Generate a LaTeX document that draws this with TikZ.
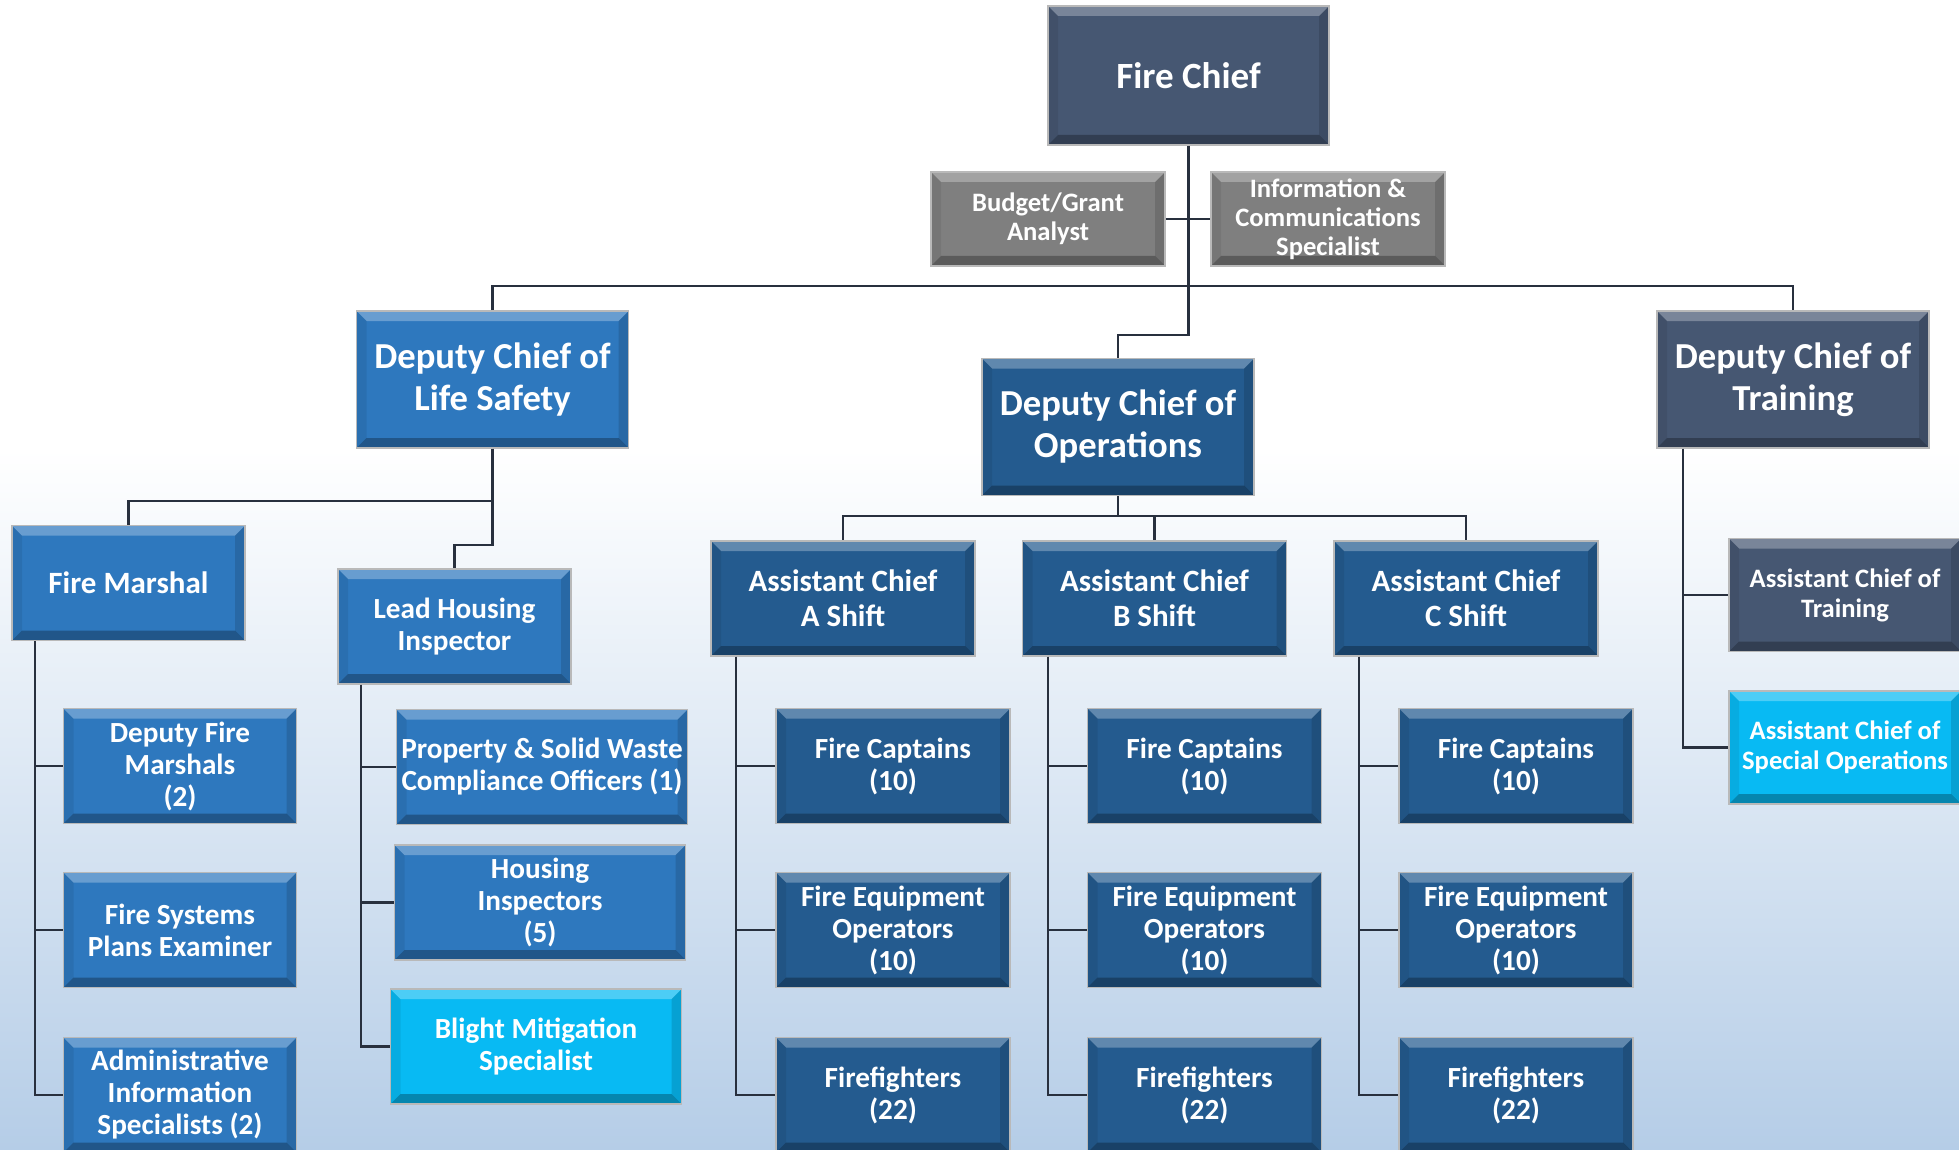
\documentclass[tikz,border=0pt]{standalone}
\usepackage{fontspec}
\setmainfont{Carlito}
\definecolor{slate}{HTML}{465772}
\definecolor{staffgray}{HTML}{7F7F7F}
\definecolor{lsblue}{HTML}{2E78BE}
\definecolor{opsblue}{HTML}{245B8F}
\definecolor{cyanbox}{HTML}{08BAF3}
\definecolor{linkcol}{HTML}{28303E}
\definecolor{bgblue}{HTML}{B5CDE7}
\begin{document}
\begin{tikzpicture}
    [x=0.5pt,y=-0.5pt,
     link/.style={draw=linkcol,line width=1.2pt},
     bevel/.style={path picture={
       \fill[white,opacity=.28] (path picture bounding box.north west) -- (path picture bounding box.north east)
         -- ([shift={(-5pt,-5pt)}]path picture bounding box.north east) -- ([shift={(5pt,-5pt)}]path picture bounding box.north west) -- cycle;
       \fill[black,opacity=.28] (path picture bounding box.south west) -- (path picture bounding box.south east)
         -- ([shift={(-5pt,5pt)}]path picture bounding box.south east) -- ([shift={(5pt,5pt)}]path picture bounding box.south west) -- cycle;
       \fill[black,opacity=.13] (path picture bounding box.north east) -- (path picture bounding box.south east)
         -- ([shift={(-5pt,5pt)}]path picture bounding box.south east) -- ([shift={(-5pt,-5pt)}]path picture bounding box.north east) -- cycle;
       \fill[black,opacity=.07] (path picture bounding box.north west) -- (path picture bounding box.south west)
         -- ([shift={(5pt,5pt)}]path picture bounding box.south west) -- ([shift={(5pt,-5pt)}]path picture bounding box.north west) -- cycle;}},
     box/.style={rectangle,draw=gray!55,line width=0.8pt,text=white,align=center,inner sep=0pt,bevel},
     chiefbox/.style={box,fill=slate,minimum width=140.5pt,minimum height=69.5pt,font=\fontsize{18.5}{22}\selectfont\bfseries},
     staffbox/.style={box,fill=staffgray,minimum width=117pt,minimum height=47pt,font=\fontsize{13.3}{14.5}\selectfont\bfseries},
     dcbox/.style={box,minimum width=136pt,minimum height=68.5pt,font=\fontsize{18.3}{21}\selectfont\bfseries},
     midbox/.style={box,minimum width=116.5pt,minimum height=57.5pt,font=\fontsize{15.5}{17.5}\selectfont\bfseries},
     unitbox/.style={box,minimum width=116.5pt,minimum height=57.5pt,font=\fontsize{14.6}{16}\selectfont\bfseries},
     widebox/.style={unitbox,minimum width=145.5pt},
     trainbox/.style={box,minimum width=116pt,minimum height=56.5pt,font=\fontsize{13.3}{15}\selectfont\bfseries}]
  \clip (0,0) rectangle (1959,1150);
  \fill[white] (0,0) rectangle (1959,450);
  \shade[top color=white,bottom color=bgblue] (0,449) rectangle (1959,1150);
  \coordinate (bus) at (0,286);
  \coordinate (dcjog) at (0,335);
  \coordinate (lsbus) at (0,501);
  \coordinate (lhijog) at (0,545);
  \coordinate (opsbus) at (0,516);
  \node[chiefbox] (chief) at (1188.5,75.5) {Fire Chief};
  \node[staffbox] (budget) at (1048,219) {Budget/Grant\\Analyst};
  \node[staffbox] (info) at (1328,219) {Information \&\\Communications\\Specialist};
  \node[dcbox,fill=lsblue] (ls) at (492.5,379.5) {Deputy Chief of\\Life Safety};
  \node[dcbox,fill=opsblue] (dco) at (1118,427) {Deputy Chief of\\Operations};
  \node[dcbox,fill=slate] (train) at (1793,379.5) {Deputy Chief of\\Training};
  \node[midbox,fill=lsblue] (fm) at (128.5,583) {Fire Marshal};
  \node[unitbox,fill=lsblue] (lhi) at (454.5,626.5) {Lead Housing\\Inspector};
  \node[unitbox,fill=lsblue] (dfm) at (180,766) {Deputy Fire\\Marshals\\(2)};
  \node[unitbox,fill=lsblue] (fspe) at (180,930) {Fire Systems\\Plans Examiner};
  \node[unitbox,fill=lsblue] (ais) at (180,1095) {Administrative\\Information\\Specialists (2)};
  \node[widebox,fill=lsblue] (pswc) at (542,767) {Property \& Solid Waste\\Compliance Officers (1)};
  \node[widebox,fill=lsblue] (hi) at (540,902.5) {Housing\\Inspectors\\(5)};
  \node[widebox,fill=cyanbox] (bms) at (536,1046.5) {Blight Mitigation\\Specialist};
  \node[trainbox,fill=slate] (act) at (1845,595) {Assistant Chief of\\Training};
  \node[trainbox,fill=cyanbox] (acso) at (1845,747.5) {Assistant Chief of\\Special Operations};
  \draw[link] (chief.south) -- (chief.south |- dcjog) -| (dco.north);
  \draw[link] (budget) -- (info);
  \draw[link] (ls.north) -- (ls.north |- bus) -- (train.north |- bus) -- (train.north);
  \draw[link] (ls.south) |- (fm.north |- lsbus) -- (fm.north);
  \draw[link] (ls.south) |- (lhi.north |- lhijog) -- (lhi.north);
  \foreach \kid in {dfm,fspe,ais}
    \draw[link] ([xshift=12pt]fm.south west) |- (\kid.west);
  \foreach \kid in {pswc,hi,bms}
    \draw[link] ([xshift=12pt]lhi.south west) |- (\kid.west);
  \foreach \kid in {act,acso}
    \draw[link] ([xshift=13.5pt]train.south west) |- (\kid.west);
  \foreach \s/\x in {a/843,b/1154.5,c/1466} {
    \node[midbox,fill=opsblue,minimum width=132pt] (ac\s) at (\x,598.5) {Assistant Chief\\\MakeUppercase{\s} Shift};
    \node[unitbox,fill=opsblue,minimum width=117pt] (fc\s) at (\x+50,766) {Fire Captains\\(10)};
    \node[unitbox,fill=opsblue,minimum width=117pt] (feo\s) at (\x+50,930) {Fire Equipment\\Operators\\(10)};
    \node[unitbox,fill=opsblue,minimum width=117pt] (ff\s) at (\x+50,1095) {Firefighters\\(22)};
    \draw[link] (dco.south) |- (ac\s.north |- opsbus) -- (ac\s.north);
    \foreach \kid in {fc,feo,ff}
      \draw[link] ([xshift=13pt]ac\s.south west) |- (\kid\s.west);
  }
\end{tikzpicture}
\end{document}
